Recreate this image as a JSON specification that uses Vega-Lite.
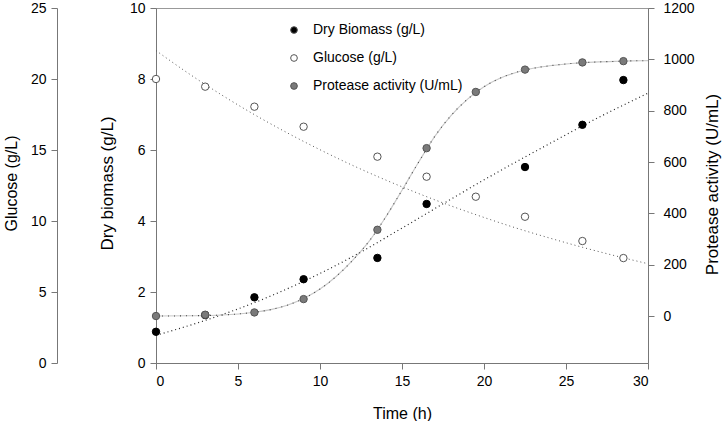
{
  "$schema": "https://vega.github.io/schema/vega-lite/v6.json",
  "autosize": {"type": "none"},
  "width": 492,
  "height": 355,
  "padding": {"left": 156, "top": 8, "right": 77, "bottom": 58},
  "background": "white",
  "view": {"stroke": "#999999", "strokeWidth": 1},
  "config": {
    "font": "Liberation Sans",
    "axis": {
      "grid": false,
      "domainColor": "#777777",
      "tickColor": "#777777",
      "tickSize": 6,
      "labelColor": "#000000",
      "labelFontSize": 14,
      "labelFont": "Liberation Sans",
      "titleFont": "Liberation Sans",
      "titleFontWeight": "normal",
      "titleColor": "#000000",
      "titleFontSize": 16
    }
  },
  "datasets": {
    "obs": [
      {"t": 0, "biomass": 0.88, "glucose": 20.0, "protease": 0},
      {"t": 3, "biomass": 1.35, "glucose": 19.46, "protease": 5},
      {"t": 6, "biomass": 1.85, "glucose": 18.05, "protease": 14},
      {"t": 9, "biomass": 2.36, "glucose": 16.64, "protease": 66},
      {"t": 13.5, "biomass": 2.96, "glucose": 14.53, "protease": 336},
      {"t": 16.5, "biomass": 4.48, "glucose": 13.12, "protease": 654},
      {"t": 19.5, "biomass": null, "glucose": 11.71, "protease": 873},
      {"t": 22.5, "biomass": 5.52, "glucose": 10.3, "protease": 960},
      {"t": 26, "biomass": 6.71, "glucose": 8.59, "protease": 988},
      {"t": 28.5, "biomass": 7.97, "glucose": 7.39, "protease": 993}
    ],
    "fit_glucose": [
      {"t": 0, "glucose": 22.0}, {"t": 2, "glucose": 20.38}, {"t": 4, "glucose": 18.88},
      {"t": 6, "glucose": 17.49}, {"t": 8, "glucose": 16.21}, {"t": 10, "glucose": 15.02},
      {"t": 12, "glucose": 13.91}, {"t": 14, "glucose": 12.89}, {"t": 16, "glucose": 11.94},
      {"t": 18, "glucose": 11.06}, {"t": 20, "glucose": 10.25}, {"t": 22, "glucose": 9.49},
      {"t": 24, "glucose": 8.8}, {"t": 26, "glucose": 8.15}, {"t": 28, "glucose": 7.55},
      {"t": 30, "glucose": 6.99}
    ],
    "fit_biomass": [
      {"t": 0, "biomass": 0.78}, {"t": 3, "biomass": 1.2}, {"t": 6, "biomass": 1.7},
      {"t": 9, "biomass": 2.3}, {"t": 12, "biomass": 3.0}, {"t": 15, "biomass": 3.8},
      {"t": 18, "biomass": 4.62}, {"t": 21, "biomass": 5.42}, {"t": 24, "biomass": 6.18},
      {"t": 27, "biomass": 6.92}, {"t": 30, "biomass": 7.6}
    ],
    "fit_protease": [
      {"t": 0, "protease": 0}, {"t": 2, "protease": 1}, {"t": 4, "protease": 4},
      {"t": 6, "protease": 15}, {"t": 7, "protease": 25}, {"t": 8, "protease": 42},
      {"t": 9, "protease": 68}, {"t": 10, "protease": 105}, {"t": 11, "protease": 155},
      {"t": 12, "protease": 218}, {"t": 13, "protease": 292}, {"t": 14, "protease": 385},
      {"t": 15, "protease": 490}, {"t": 16, "protease": 598}, {"t": 17, "protease": 700},
      {"t": 18, "protease": 782}, {"t": 19, "protease": 845}, {"t": 20, "protease": 893},
      {"t": 21, "protease": 927}, {"t": 22, "protease": 950}, {"t": 23, "protease": 965},
      {"t": 24, "protease": 975}, {"t": 25, "protease": 982}, {"t": 26, "protease": 987},
      {"t": 27, "protease": 990}, {"t": 28, "protease": 992}, {"t": 29, "protease": 994},
      {"t": 30, "protease": 995}
    ]
  },
  "encoding": {
    "x": {
      "field": "t", "type": "quantitative",
      "scale": {"domain": [0, 30], "nice": false},
      "axis": {"title": "Time (h)", "values": [0, 5, 10, 15, 20, 25, 30], "labelPadding": 5, "titleBaseline": "alphabetic", "titleY": 55}
    }
  },
  "layer": [
    {
      "data": {"name": "fit_glucose"},
      "mark": {"type": "line", "interpolate": "monotone", "color": "#555555", "strokeWidth": 1, "strokeDash": [1, 3]},
      "encoding": {
        "y": {"field": "glucose", "type": "quantitative", "scale": {"domain": [0, 25], "nice": false},
          "axis": {"orient": "left", "offset": 99, "title": "Glucose (g/L)", "values": [0, 5, 10, 15, 20, 25], "labelPadding": 5, "titleX": -38, "titleY": 175}}
      }
    },
    {
      "data": {"name": "fit_biomass"},
      "mark": {"type": "line", "interpolate": "monotone", "color": "#222222", "strokeWidth": 1.2, "strokeDash": [1, 3]},
      "encoding": {
        "y": {"field": "biomass", "type": "quantitative", "scale": {"domain": [0, 10], "nice": false},
          "axis": {"orient": "left", "title": "Dry biomass (g/L)", "titleFontSize": 17, "values": [0, 2, 4, 6, 8, 10], "labelPadding": 5, "titleX": -40, "titleY": 175}}
      }
    },
    {
      "data": {"name": "fit_protease"},
      "mark": {"type": "line", "interpolate": "monotone", "color": "#c8c8c8", "strokeWidth": 1.1},
      "encoding": {
        "y": {"field": "protease", "type": "quantitative", "scale": {"domain": [-183, 1200], "nice": false, "zero": false},
          "axis": {"orient": "right", "format": "d", "title": "Protease activity (U/mL)", "titleFontSize": 17, "titleAngle": 270, "titleBaseline": "bottom", "values": [0, 200, 400, 600, 800, 1000, 1200], "labelPadding": 9, "titleX": 73, "titleY": 176}}
      }
    },
    {
      "data": {"name": "fit_protease"},
      "mark": {"type": "line", "interpolate": "monotone", "color": "#444444", "strokeWidth": 1.1, "strokeDash": [1, 5]},
      "encoding": {
        "y": {"field": "protease", "type": "quantitative", "scale": {"domain": [-183, 1200], "nice": false, "zero": false}, "axis": null}
      }
    },
    {
      "data": {"name": "obs"},
      "mark": {"type": "point", "filled": true, "size": 55, "stroke": "#555555", "strokeWidth": 1, "opacity": 1},
      "encoding": {
        "y": {"field": "glucose", "type": "quantitative", "scale": {"domain": [0, 25], "nice": false}, "axis": null},
        "fill": {"datum": "Glucose (g/L)", "type": "nominal"}
      }
    },
    {
      "data": {"name": "obs"},
      "mark": {"type": "point", "filled": true, "size": 55, "stroke": "#000000", "strokeWidth": 1, "opacity": 1},
      "encoding": {
        "y": {"field": "biomass", "type": "quantitative", "scale": {"domain": [0, 10], "nice": false}, "axis": null},
        "fill": {"datum": "Dry Biomass (g/L)", "type": "nominal"}
      }
    },
    {
      "data": {"name": "obs"},
      "mark": {"type": "point", "filled": true, "size": 55, "stroke": "#555555", "strokeWidth": 1, "opacity": 1},
      "encoding": {
        "y": {"field": "protease", "type": "quantitative", "scale": {"domain": [-183, 1200], "nice": false, "zero": false}, "axis": null},
        "fill": {
          "datum": "Protease activity (U/mL)", "type": "nominal",
          "scale": {"domain": ["Dry Biomass (g/L)", "Glucose (g/L)", "Protease activity (U/mL)"], "range": ["#000000", "#ffffff", "#7a7a7a"]},
          "legend": {
            "title": null, "orient": "none", "legendX": 131, "legendY": 15,
            "padding": 0, "symbolType": "circle", "symbolSize": 45,
            "symbolStrokeColor": "#444444", "symbolStrokeWidth": 1, "symbolOpacity": 1,
            "labelFontSize": 14, "labelFont": "Liberation Sans", "labelColor": "#000000",
            "labelOffset": 12, "rowPadding": 14, "labelLimit": 300
          }
        }
      }
    }
  ],
  "resolve": {"scale": {"y": "independent"}, "axis": {"y": "independent"}}
}
